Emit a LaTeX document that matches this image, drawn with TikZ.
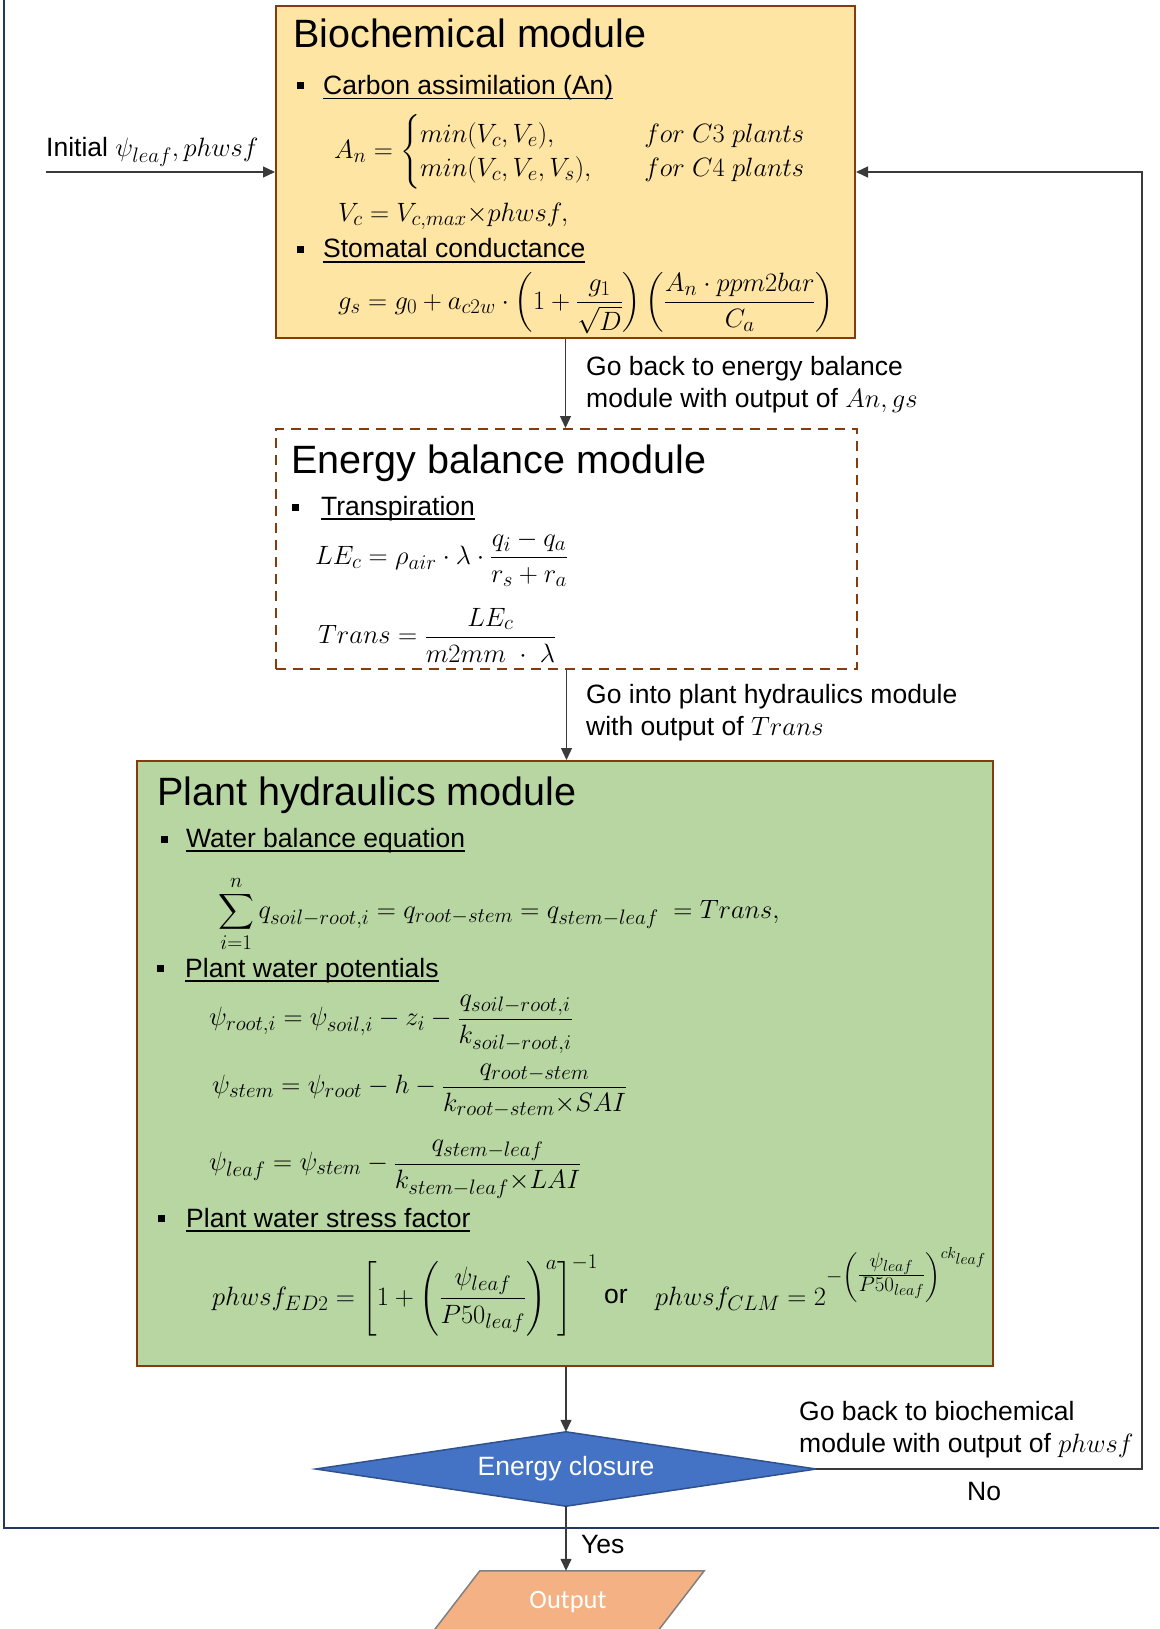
\RequirePackage{fix-cm}
\documentclass[tikz,border=0pt]{standalone}
\usepackage{amsmath}
\usepackage{fontspec}
\setmainfont{Liberation Sans}
\newfontfamily\carlito{Carlito}
\usetikzlibrary{shapes.geometric,arrows.meta,calc,backgrounds}
\renewcommand\defaultscriptratio{.79}
\renewcommand\defaultscriptscriptratio{.6}
\definecolor{bioFill}{HTML}{FFE5A3}
\definecolor{hydFill}{HTML}{B7D6A1}
\definecolor{boxBrown}{HTML}{843C0C}
\definecolor{diaFill}{HTML}{4472C4}
\definecolor{diaLine}{HTML}{2F528F}
\definecolor{outFill}{HTML}{F4B183}
\definecolor{frameNavy}{HTML}{203864}
\definecolor{lineGray}{HTML}{3A3A3A}
\newcommand\ulh[1]{\setbox0=\hbox{#1}\rlap{\rule[-4.5pt]{\wd0}{1.8pt}}\box0}
\tikzset{
  txt/.style={inner sep=0pt, font=\fontsize{26.5}{32}\selectfont},
  ttl/.style={inner sep=0pt, anchor=base west, font=\fontsize{39.5}{46}\selectfont},
  hd/.style={txt, anchor=base west},
  eqn/.style={txt, anchor=west},
  bulsq/.style={fill=black, inner sep=0pt, minimum size=7pt, draw=none},
  modbox/.style={draw=boxBrown, line width=2pt, inner sep=0pt},
  conn/.style={draw=lineGray, line width=1.3pt, -{Triangle[length=12pt,width=11pt]}},
}
\begin{document}
\begin{tikzpicture}[x=1pt,y=-1pt]
\useasboundingbox (0,0) rectangle (1159,1629);
\clip (0,0) rectangle (1159,1629);
% outer frame
\draw[frameNavy, line width=2.5pt] (4,-10) -- (4,1528) -- (1175,1528);
% module boxes
\node[modbox, fill=bioFill, minimum width=579pt, minimum height=332pt] (bio) at (565.5,172) {};
\node[modbox, fill=white, dash pattern=on 10pt off 7pt, minimum width=581pt, minimum height=240pt] (eb) at (566.5,549) {};
\node[modbox, fill=hydFill, minimum width=856pt, minimum height=605pt] (hyd) at (565,1063.5) {};
% decision diamond
\node[inner sep=0pt, minimum width=500pt, minimum height=74pt, text=white, font=\fontsize{26.5}{32}\selectfont] (dia) at (566,1469) {Energy closure};
\begin{scope}[on background layer]
\draw[draw=diaLine, line width=1.5pt, fill=diaFill] (dia.north) -- (dia.east) -- (dia.south) -- (dia.west) -- cycle;
\end{scope}
% output parallelogram
\node[inner sep=0pt, minimum width=224pt, minimum height=62pt, text=white, font=\carlito\fontsize{26.5}{30}\selectfont] (out) at (568,1602) {Output};
\begin{scope}[on background layer]
\draw[draw=gray, line width=1.5pt, fill=outFill] ([xshift=24pt]out.north west) -- ([xshift=24pt]out.north east) -- ([xshift=-24pt]out.south east) -- ([xshift=-24pt]out.south west) -- cycle;
\end{scope}

% Biochemical module content
\node[ttl] (bioT) at (293,48) {Biochemical module};
\node[bulsq] (bb1) at (300,86) {};
\node[hd] (bh1) at (323,95) {\ulh{Carbon assimilation (An)}};
\node[eqn] (beq1) at (334,152) {$A_n = \begin{cases} min(V_c,V_e), & \quad for\ C3\ plants\\[-4pt] min(V_c,V_e,V_s), & \quad for\ C4\ plants\end{cases}$};
\node[txt, anchor=base west] (beq2) at (338,222) {$V_c = V_{c,max}{\times}phwsf,$};
\node[bulsq] (bb2) at (300,250) {};
\node[hd] (bh2) at (323,258) {\ulh{Stomatal conductance}};
\node[eqn] (beq3) at (338,303) {$\displaystyle g_s = g_0 + a_{c2w}\cdot\left(1+\frac{g_1}{\sqrt{D}}\right)\left(\frac{A_n\cdot ppm2bar}{C_a}\right)$};

% Energy balance content
\node[ttl] (ebT) at (291,473) {Energy balance module};
\node[bulsq] (eb1) at (295,507) {};
\node[hd] (eh1) at (321,515) {\ulh{Transpiration}};
\node[eqn] (eeq1) at (315,559) {$\displaystyle LE_c = \rho_{air}\cdot\lambda\cdot\frac{q_i - q_a}{r_s + r_a}$};
\node[eqn] (eeq2) at (318,635) {$\displaystyle Trans = \frac{LE_c}{m2mm\ \cdot\ \lambda}$};

% Plant hydraulics content
\node[ttl] (hT) at (157,805) {Plant hydraulics module};
\node[bulsq] (hb1) at (164,839) {};
\node[hd] (hh1) at (186,847) {\ulh{Water balance equation}};
\node[eqn] (heq1) at (218,914) {$\displaystyle\sum_{i=1}^{n} q_{soil{-}root,i} = q_{root{-}stem} = q_{stem{-}leaf}\ = Trans,$};
\node[bulsq] (hb2) at (160,968) {};
\node[hd] (hh2) at (185,977) {\ulh{Plant water potentials}};
\node[eqn] (heq2) at (209,1024) {$\displaystyle \psi_{root,i} = \psi_{soil,i} - z_i - \frac{q_{soil{-}root,i}}{k_{soil{-}root,i}}$};
\node[eqn] (heq3) at (212,1091) {$\displaystyle \psi_{stem} = \psi_{root} - h - \frac{q_{root{-}stem}}{k_{root{-}stem}{\times}SAI}$};
\node[eqn] (heq4) at (209,1169) {$\displaystyle \psi_{leaf} = \psi_{stem} - \frac{q_{stem{-}leaf}}{k_{stem{-}leaf}{\times}LAI}$};
\node[bulsq] (hb3) at (161,1218) {};
\node[hd] (hh3) at (186,1227) {\ulh{Plant water stress factor}};
\node[txt, anchor=base west] (heq5) at (212,1305) {$\displaystyle phwsf_{ED2} = \left[1+\left(\frac{\psi_{leaf}}{P50_{leaf}}\right)^{a}\right]^{-1}$};
\node[txt, anchor=base west] (hor) at (604,1303) {or};
\node[txt, anchor=base west] (heq6) at (655,1305) {$\displaystyle phwsf_{CLM} = 2^{-\left(\genfrac{}{}{}{1}{\psi_{leaf}}{P50_{leaf}}\right)^{ck_{leaf}}}$};

% connectors
\coordinate (initS) at (46,172);
\coordinate (fbR) at (1142,1469);
\draw[conn] (initS) -- (bio.west);
\draw[conn] (bio.south) -- (bio.south |- eb.north);
\draw[conn] (eb.south) -- (eb.south |- hyd.north);
\draw[conn] (dia.north |- hyd.south) -- (dia.north);
\draw[conn] (dia.south) -- (dia.south |- out.north);
\draw[conn] (dia.east) -- (fbR) |- (bio.east);

% labels
\node[txt, anchor=base west] (lInit) at (46,157) {Initial $\psi_{leaf}, phwsf$};
\node[txt, anchor=base west] (lA1) at (586,375) {Go back to energy balance};
\node[txt, anchor=base west] (lA2) at (586,407) {module with output of $An, gs$};
\node[txt, anchor=base west] (lB1) at (586,703) {Go into plant hydraulics module};
\node[txt, anchor=base west] (lB2) at (586,735) {with output of $Trans$};
\node[txt, anchor=base west] (lC1) at (799,1420) {Go back to biochemical};
\node[txt, anchor=base west] (lC2) at (799,1452) {module with output of $phwsf$};
\node[txt, anchor=base west] (lNo) at (967,1500) {No};
\node[txt, anchor=base west] (lYes) at (581,1553) {Yes};
\end{tikzpicture}
\end{document}
